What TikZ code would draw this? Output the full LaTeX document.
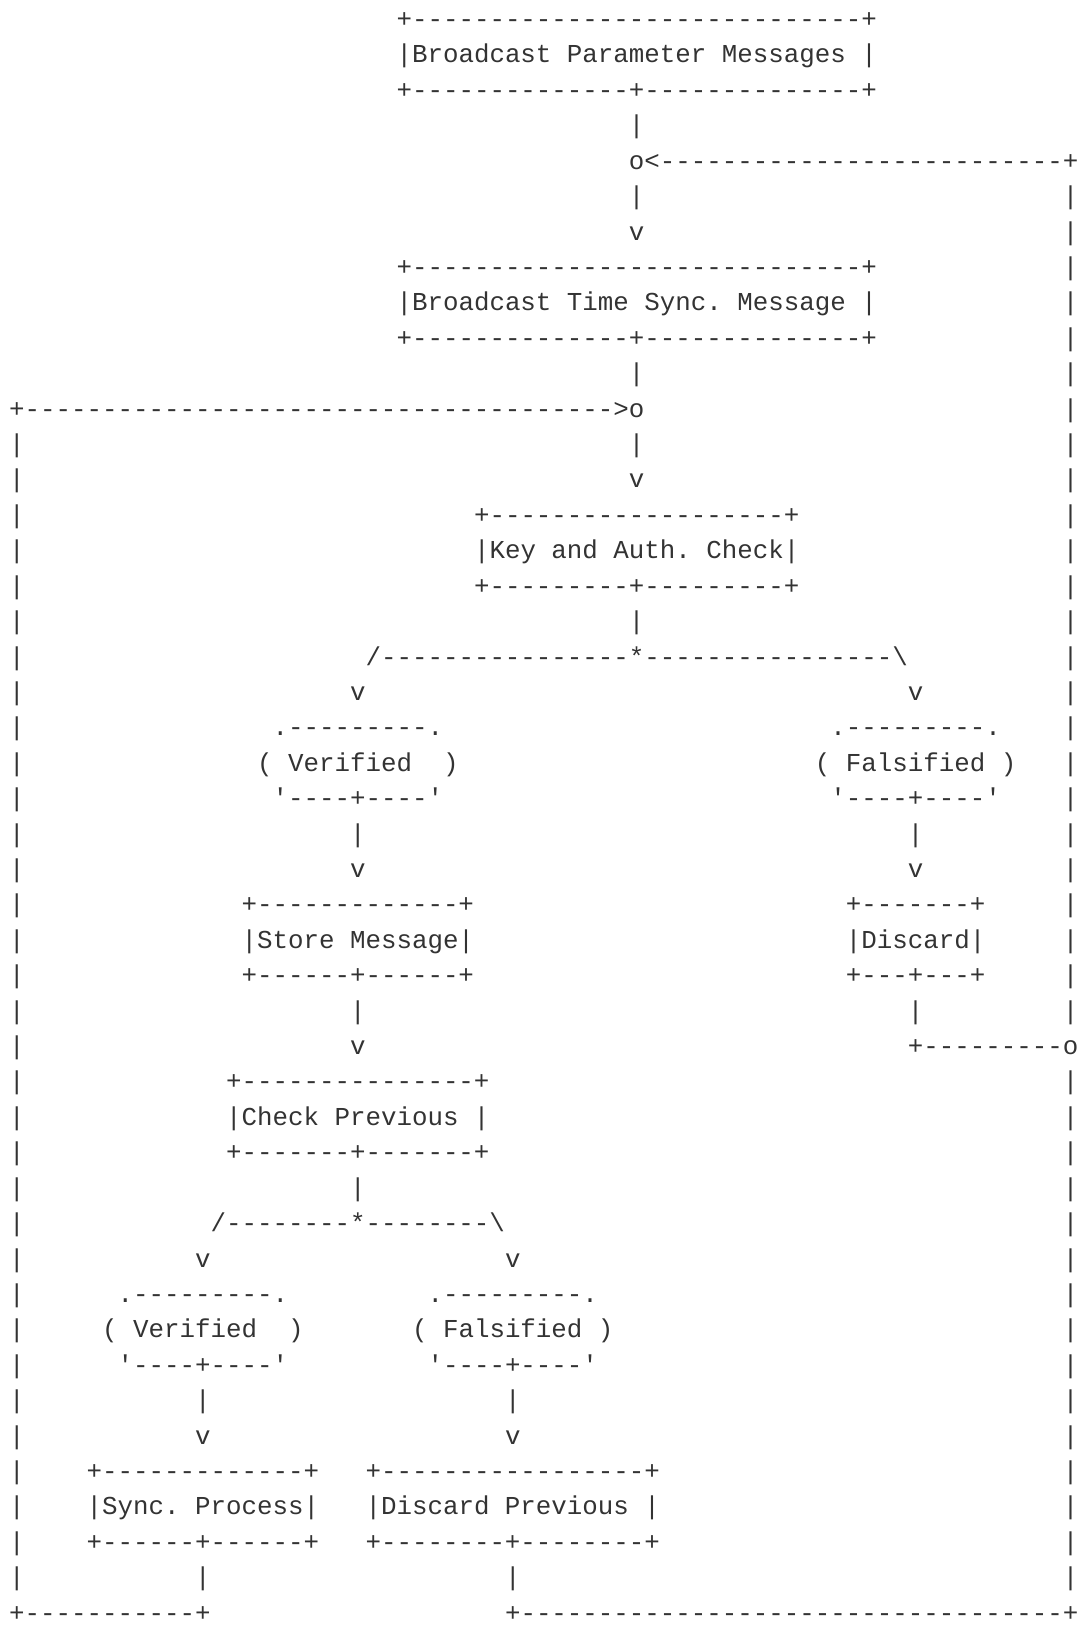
\documentclass[tikz,border=0pt]{standalone}
\usepackage{fontspec}
\setmonofont{Liberation Mono}
\usepackage{tikz}
\usetikzlibrary{positioning}
\definecolor{ink}{HTML}{333333}

\tikzset{asc/.style={anchor=base west, inner sep=0pt, outer sep=0pt, text=ink, font=\ttfamily\fontsize{12.99pt}{17.8pt}\selectfont}}

\begin{document}
\begin{tikzpicture}[x=7.795pt, y=-17.815pt]
\useasboundingbox (-4.6pt,13.85pt) rectangle (538.1pt,-805.6pt);

% parameter messages
\node[asc] (param-t) at (25,0) {+-----------------------------+};
\node[asc] (param) at (25,1) {|Broadcast Parameter Messages |};
\node[asc] (param-b) at (25,2) {+--------------+--------------+};
\node[asc] (a1) at (40,3) {|};
\node[asc] (loop-in) at (40,4) {o<--------------------------+};
\node[asc] (a2) at (40,5) {|};
\node[asc] (a3) at (40,6) {v};

% time sync message
\node[asc] (tsync-t) at (25,7) {+-----------------------------+};
\node[asc] (tsync) at (25,8) {|Broadcast Time Sync. Message |};
\node[asc] (tsync-b) at (25,9) {+--------------+--------------+};
\node[asc] (a4) at (40,10) {|};
\node[asc] (back-in) at (0,11) {+-------------------------------------->o};
\node[asc] (a5) at (40,12) {|};
\node[asc] (a6) at (40,13) {v};

% key and auth check
\node[asc] (check-t) at (30,14) {+-------------------+};
\node[asc] (check) at (30,15) {|Key and Auth. Check|};
\node[asc] (check-b) at (30,16) {+---------+---------+};
\node[asc] (a7) at (40,17) {|};
\node[asc] (split1) at (23,18) {/----------------*----------------\textbackslash};
\node[asc] (a8) at (22,19) {v};
\node[asc] (a9) at (58,19) {v};

\node[asc] (ver1-t) at (17,20) {.---------.};
\node[asc] (ver1) at (16,21) {( Verified~ )};
\node[asc] (ver1-b) at (17,22) {'----+----'};
\node[asc] (fal1-t) at (53,20) {.---------.};
\node[asc] (fal1) at (52,21) {( Falsified )};
\node[asc] (fal1-b) at (53,22) {'----+----'};
\node[asc] (a10) at (22,23) {|};
\node[asc] (a11) at (22,24) {v};
\node[asc] (a12) at (58,23) {|};
\node[asc] (a13) at (58,24) {v};

% store / discard
\node[asc] (store-t) at (15,25) {+-------------+};
\node[asc] (store) at (15,26) {|Store Message|};
\node[asc] (store-b) at (15,27) {+------+------+};
\node[asc] (disc-t) at (54,25) {+-------+};
\node[asc] (disc) at (54,26) {|Discard|};
\node[asc] (disc-b) at (54,27) {+---+---+};
\node[asc] (a14) at (22,28) {|};
\node[asc] (a15) at (22,29) {v};
\node[asc] (a16) at (58,28) {|};
\node[asc] (disc-out) at (58,29) {+---------o};

% check previous
\node[asc] (prev-t) at (14,30) {+---------------+};
\node[asc] (prev) at (14,31) {|Check Previous |};
\node[asc] (prev-b) at (14,32) {+-------+-------+};
\node[asc] (a17) at (22,33) {|};
\node[asc] (split2) at (13,34) {/--------*--------\textbackslash};
\node[asc] (a18) at (12,35) {v};
\node[asc] (a19) at (32,35) {v};

\node[asc] (ver2-t) at (7,36) {.---------.};
\node[asc] (ver2) at (6,37) {( Verified~ )};
\node[asc] (ver2-b) at (7,38) {'----+----'};
\node[asc] (fal2-t) at (27,36) {.---------.};
\node[asc] (fal2) at (26,37) {( Falsified )};
\node[asc] (fal2-b) at (27,38) {'----+----'};
\node[asc] (a20) at (12,39) {|};
\node[asc] (a21) at (12,40) {v};
\node[asc] (a22) at (32,39) {|};
\node[asc] (a23) at (32,40) {v};

% sync process / discard previous
\node[asc] (sync-t) at (5,41) {+-------------+};
\node[asc] (sync) at (5,42) {|Sync. Process|};
\node[asc] (sync-b) at (5,43) {+------+------+};
\node[asc] (dprev-t) at (23,41) {+-----------------+};
\node[asc] (dprev) at (23,42) {|Discard Previous |};
\node[asc] (dprev-b) at (23,43) {+--------+--------+};
\node[asc] (a24) at (12,44) {|};
\node[asc] (a25) at (32,44) {|};
\node[asc] (back-out) at (0,45) {+-----------+};
\node[asc] (loop-out) at (32,45) {+-----------------------------------+};

% return lines
\foreach \r in {12,...,44}
  \node[asc] (lb-\r) at (0,\r) {|};
\foreach \r in {5,...,28,30,31,...,44}
  \node[asc] (rb-\r) at (68,\r) {|};
\end{tikzpicture}
\end{document}
